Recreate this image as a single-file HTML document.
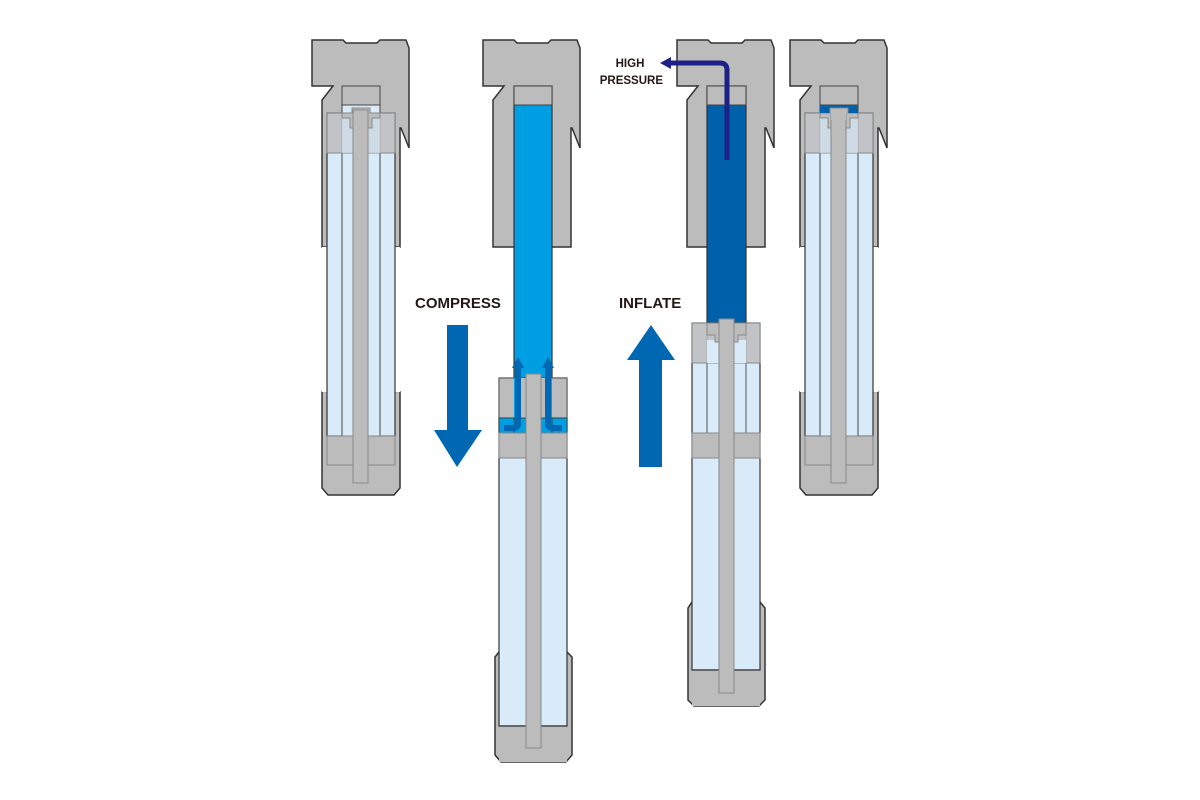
<!DOCTYPE html>
<html><head><meta charset="utf-8"><style>
html,body{margin:0;padding:0;background:#fff;width:1200px;height:800px;overflow:hidden}
text{font-family:"Liberation Sans",sans-serif;font-weight:bold;fill:#231815}
</style></head><body>
<svg width="1200" height="800" viewBox="0 0 1200 800" xmlns="http://www.w3.org/2000/svg">
<defs>
<path id="head" d="M312,40 L343,40 L346,43 L377,43 L380,40 L406,40 L409,48 L409,148 L401,128 L400,128 L400,247 L322,247 L322,100 L333,86 L312,86 Z" fill="#bcbcbd" stroke="#333" stroke-width="1.5"/>
<g id="pumpA">
  <use href="#head"/>
  <path d="M322,392 L327,386 L327,392 L395,392 L395,386 L400,392 L400,488 L394,495 L328,495 L322,488 Z" fill="#bcbcbd" stroke="#333" stroke-width="1.5"/>
  <rect x="322" y="247" width="5" height="145" fill="#fff"/>
  <rect x="395" y="247" width="5" height="145" fill="#fff"/>
  <rect x="327" y="113" width="68" height="323" fill="#d9ebf8" stroke="#333" stroke-width="1.2"/>
  <rect x="342" y="86" width="38" height="350" fill="#d9ebf8" stroke="#444" stroke-width="1"/>
  <rect x="342" y="86" width="38" height="19" fill="#bcbcbd" stroke="#444" stroke-width="1"/>
  <path d="M327,113 L395,113 L395,153 L327,153 Z" fill="#bcbcbd" fill-opacity="0.85" stroke="#888" stroke-width="1"/>
  <rect x="342" y="113" width="38" height="40" fill="#d9ebf8" fill-opacity="0.6"/>
  <path d="M342,113 L352,113 L352,108 L370,108 L370,113 L380,113 L380,118 L372,118 L372,128 L350,128 L350,118 L342,118 Z" fill="#bcbcbd" stroke="#888" stroke-width="1"/>
  <rect x="327" y="436" width="68" height="29" fill="#bcbcbd" stroke="#888" stroke-width="1"/>
  <rect x="353" y="110" width="15" height="373" fill="#bcbcbd" stroke="#888" stroke-width="1"/>
</g>
</defs>

<use href="#pumpA"/>
<g transform="translate(478,0)">
  <use href="#pumpA"/>
  <rect x="342" y="105" width="38" height="8" fill="#0060aa"/>
  <path d="M352,113 L352,108 L370,108 L370,113" fill="#bcbcbd" stroke="#888"/>
  <rect x="353" y="110" width="15" height="10" fill="#bcbcbd"/>
</g>

<g transform="translate(171,0)"><use href="#head"/></g>
<rect x="514" y="86" width="38" height="332" fill="#009fe3" stroke="#333" stroke-width="1.2"/>
<rect x="514" y="86" width="38" height="19" fill="#bcbcbd" stroke="#444" stroke-width="1"/>
<path d="M495,657 L499,652 L567,652 L572,657 L572,755 L566,762 L501,762 L495,755 Z" fill="#bcbcbd" stroke="#333" stroke-width="1.5"/>
<rect x="499" y="378" width="68" height="348" fill="#d9ebf8" stroke="#333" stroke-width="1.2"/>
<rect x="499" y="378" width="68" height="40" fill="#bcbcbd" stroke="#555" stroke-width="1"/>
<rect x="514" y="378" width="38" height="40" fill="#009fe3"/>
<rect x="519" y="378" width="28" height="40" fill="#bcbcbd"/>
<rect x="499" y="418" width="68" height="15" fill="#009fe3" stroke="#333" stroke-width="0.8"/>
<line x1="514" y1="418" x2="514" y2="433" stroke="#333" stroke-width="0.8"/>
<line x1="552" y1="418" x2="552" y2="433" stroke="#333" stroke-width="0.8"/>
<rect x="499" y="433" width="68" height="25" fill="#bcbcbd" stroke="#888" stroke-width="1"/>
<rect x="499" y="726" width="68" height="36" fill="#bcbcbd"/>
<line x1="499" y1="726" x2="567" y2="726" stroke="#333" stroke-width="1.2"/>
<rect x="526" y="374" width="15" height="374" fill="#bcbcbd" stroke="#888" stroke-width="1"/>
<path d="M504,428 L513,428 Q518,428 518,423 L518,366" fill="none" stroke="#0067b2" stroke-width="6"/>
<path d="M512,368 L518,357 L524,368 Z" fill="#0067b2"/>
<path d="M562,428 L553,428 Q548,428 548,423 L548,366" fill="none" stroke="#0067b2" stroke-width="6"/>
<path d="M542,368 L548,357 L554,368 Z" fill="#0067b2"/>

<g transform="translate(365,0)"><use href="#head"/></g>
<rect x="707" y="86" width="39" height="237" fill="#0060aa" stroke="#333" stroke-width="1.2"/>
<rect x="707" y="86" width="39" height="19" fill="#bcbcbd" stroke="#444" stroke-width="1"/>
<path d="M688,608 L692,602 L760,602 L765,608 L765,700 L759,706 L694,706 L688,700 Z" fill="#bcbcbd" stroke="#333" stroke-width="1.5"/>
<rect x="692" y="323" width="68" height="347" fill="#d9ebf8" stroke="#333" stroke-width="1.2"/>
<rect x="707" y="323" width="39" height="110" fill="#d9ebf8" stroke="#555" stroke-width="1"/>
<rect x="692" y="323" width="68" height="40" fill="#bcbcbd" fill-opacity="0.85" stroke="#888" stroke-width="1"/>
<rect x="707" y="340" width="39" height="23" fill="#d9ebf8"/>
<path d="M707,323 L746,323 L746,335 L738,335 L738,342 L715,342 L715,335 L707,335 Z" fill="#bcbcbd" stroke="#888" stroke-width="1"/>
<rect x="692" y="433" width="68" height="25" fill="#bcbcbd" stroke="#888" stroke-width="1"/>
<rect x="692" y="670" width="68" height="36" fill="#bcbcbd"/>
<line x1="692" y1="670" x2="760" y2="670" stroke="#333" stroke-width="1.2"/>
<rect x="719" y="319" width="15" height="374" fill="#bcbcbd" stroke="#888" stroke-width="1"/>
<path d="M727,160 L727,70 Q727,63 720,63 L670,63" fill="none" stroke="#1d2087" stroke-width="5"/>
<path d="M671,57 L660,63 L671,69 Z" fill="#1d2087"/>
<text x="630" y="67" font-size="11.5" text-anchor="middle">HIGH</text>
<text x="663" y="84" font-size="11.5" text-anchor="end">PRESSURE</text>

<text x="415" y="308" font-size="15">COMPRESS</text>
<path d="M447,325 L468,325 L468,430 L482,430 L457,467 L434,430 L447,430 Z" fill="#0067b2"/>
<text x="619" y="308" font-size="15">INFLATE</text>
<path d="M651,325 L675,360 L662,360 L662,467 L639,467 L639,360 L627,360 Z" fill="#0067b2"/>
</svg>
</body></html>
